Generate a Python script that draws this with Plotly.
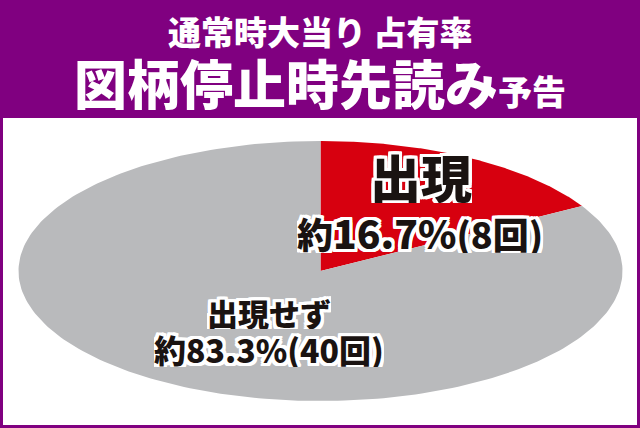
import numpy as np
import plotly.graph_objects as go

# données
labels = ["出現", "出現せず"]
counts = [8, 40]
pcts = ["約16.7%", "約83.3%"]
colors = ["#d7000f", "#b9babc"]

title_1 = "通常時大当り 占有率"
title_2 = "図柄停止時先読み"
title_2b = "予告"

W, H = 640, 428
FONT = "Noto Sans CJK JP"
PURPLE = "#800080"
INK = "#1a1311"

# centre de l'ellipse en pixels, rayons en pixels
cx, cy = 320.5, 271
rx, ry = 302, 130

outline = ", ".join(
    f"white {dx}px {dy}px 0px"
    for dx in (-3, -2, 0, 2, 3)
    for dy in (-3, -2, 0, 2, 3)
    if (dx, dy) != (0, 0)
)

fig = go.Figure()

total = sum(counts)
start = 90.0
for lab, n, col in zip(labels, counts, colors):
    span = 360.0 * n / total
    ang = np.radians(np.linspace(start, start - span, 240))
    xs = np.concatenate([[0], np.cos(ang), [0]])
    ys = np.concatenate([[0], np.sin(ang), [0]])
    fig.add_trace(go.Scatter(x=xs, y=ys, fill="toself", fillcolor=col,
                             mode="lines", line=dict(width=0, color=col),
                             name=lab, hoverinfo="name"))
    start -= span

fig.update_layout(
    width=W, height=H,
    margin=dict(l=0, r=0, t=0, b=0),
    paper_bgcolor=PURPLE,
    plot_bgcolor="rgba(0,0,0,0)",
    showlegend=False,
    xaxis=dict(range=[-cx / rx, (W - cx) / rx], visible=False, fixedrange=True),
    yaxis=dict(range=[-(H - cy) / ry, cy / ry], visible=False, fixedrange=True),
    shapes=[
        # panneau blanc
        dict(type="rect", xref="paper", yref="paper", layer="below",
             x0=3 / W, x1=(W - 3) / W, y0=3 / H, y1=(H - 118) / H,
             fillcolor="white", line=dict(width=0)),
    ],
)


def note(px, py, text, size, color=INK, shadow=None, box=None):
    # px, py en pixels depuis le coin haut-gauche
    fig.add_annotation(x=px / W, y=1 - py / H, xref="paper", yref="paper",
                       xanchor="center", yanchor="middle", showarrow=False, text=text,
                       height=box, valign="middle",
                       font=dict(family=FONT, size=size, color=color, weight=900,
                                 shadow=shadow))


# titre
note(320, 31, title_1, 33, "white", box=36)
note(320, 82, f"{title_2}<span style='font-size:34px'>{title_2b}</span>", 53, "white", box=56)

# étiquettes
note(421, 176, labels[0], 51, shadow=outline, box=54)
note(420, 232, f"{pcts[0][0]}<span style='font-size:39px'>{pcts[0][1:]}</span>"
               f"({counts[0]}回)", 36, shadow=outline, box=42)
note(269, 312, labels[1], 31, shadow=outline, box=34)
note(269, 349, f"{pcts[1]}({counts[1]}回)", 32, shadow=outline, box=36)

fig.write_html("out.html", config={"displayModeBar": False},
               post_script="document.body.style.margin='0';")
